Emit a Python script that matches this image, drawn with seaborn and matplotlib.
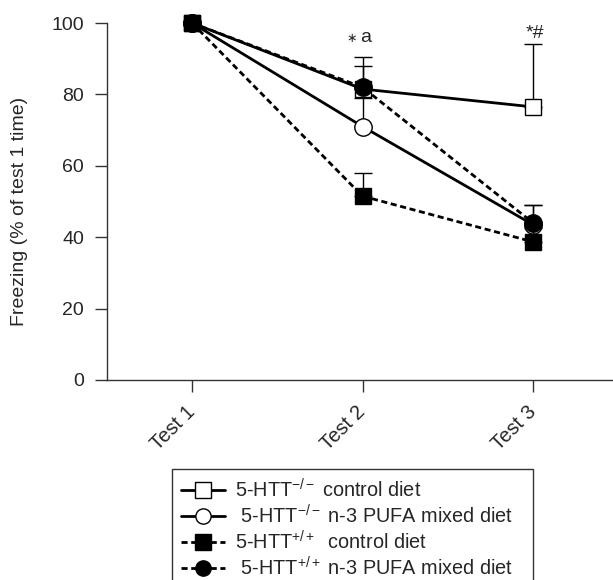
import matplotlib
matplotlib.use("Agg")
import matplotlib.pyplot as plt
import seaborn as sns
import pandas as pd
import numpy as np

# ---- data ----
tests = ["Test 1", "Test 2", "Test 3"]
ko_control = [100, 81.5, 76.5]
ko_control_err = [0, 6.5, 17.5]
ko_n3 = [100, 71, 43.5]
ko_n3_err = [0, 8, 5.5]
wt_control = [100, 51.5, 38.7]
wt_control_err = [0, 6.5, 4]
wt_n3 = [100, 82, 44]
wt_n3_err = [0, 8.5, 5]
labels = ["5-HTT$^{-/-}$ control diet",
          " 5-HTT$^{-/-}$ n-3 PUFA mixed diet   ",
          "5-HTT$^{+/+}$  control diet",
          " 5-HTT$^{+/+}$ n-3 PUFA mixed diet   "]
annot_marks = ["", "\u2217", "*"]
annot_letters = ["", "a", "#"]

sns.set_style("white")
plt.rcParams["font.family"] = ["Liberation Sans", "DejaVu Sans"]
plt.rcParams["mathtext.fontset"] = "custom"
plt.rcParams["mathtext.rm"] = "Liberation Sans"
plt.rcParams["mathtext.it"] = "Liberation Sans:italic"
plt.rcParams["mathtext.bf"] = "Liberation Sans:bold"

x = np.arange(len(tests))
series = [
    (labels[0], ko_control, ko_control_err, "-", "s", "white"),
    (labels[1], ko_n3, ko_n3_err, "-", "o", "white"),
    (labels[3], wt_n3, wt_n3_err, (0, (2.2, 1.3)), "o", "black"),
    (labels[2], wt_control, wt_control_err, (0, (2.2, 1.3)), "s", "black"),
]

fig = plt.figure(figsize=(6.13, 5.8), dpi=100)
ax = fig.add_axes([107/613, 1-380/580, 1-107/613, (380-23)/580])

handles = {}
for i, (lab, vals, err, ls, mk, fc) in enumerate(series):
    df = pd.DataFrame({"x": x, "y": vals})
    ax.errorbar(x, vals, yerr=[np.zeros(len(err)), err], fmt="none",
                ecolor="black", elinewidth=1.0, capsize=6.5, capthick=1.0,
                zorder=2+i, clip_on=False)
    sns.lineplot(data=df, x="x", y="y", ax=ax, color="black", linewidth=2.0,
                 linestyle=ls, marker=mk, markersize=12 if mk == "s" else 12.5,
                 markerfacecolor=fc, markeredgecolor="black", markeredgewidth=1.0,
                 zorder=3+i, clip_on=False, legend=False)
    handles[lab] = ax.lines[-1]

# significance annotations
ax.text(x[1] - 0.035, 95.6, annot_marks[1], ha="right", va="center", fontsize=9)
ax.text(x[1] - 0.015, 96.0, annot_letters[1], ha="left", va="center", fontsize=14)
ax.text(x[2] + 0.01, 97.0, annot_marks[2] + annot_letters[2], ha="center",
        va="center", fontsize=14)

ax.set_xlim(-0.4985, 2.469)
ax.set_ylim(0, 100)
ax.set_xticks(x)
ax.set_xticklabels(tests, rotation=45, ha="right", va="center",
                   rotation_mode="anchor", fontsize=14.5)
ax.set_yticks([0, 20, 40, 60, 80, 100])
ax.tick_params(axis="both", direction="out", length=8.6, width=1.0,
               color="#333333", labelsize=14, bottom=True, left=True)
ax.tick_params(axis="y", pad=8)
ax.tick_params(axis="x", pad=12, labelsize=14.5)
ax.set_xlabel("")
ax.set_ylabel("Freezing (% of test 1 time)", fontsize=14)
ax.yaxis.set_label_coords(-0.156, 0.473)
for s in ["top", "right"]:
    ax.spines[s].set_visible(False)
for s in ["left", "bottom"]:
    ax.spines[s].set_color("#333333")
    ax.spines[s].set_linewidth(1.0)

order = labels
leg = fig.legend([handles[l] for l in order], order, loc="upper left",
                 bbox_to_anchor=(172/613, 1-469/580), fontsize=14.3,
                 frameon=True, fancybox=False, edgecolor="black",
                 handlelength=2.2, handletextpad=0.5, labelspacing=0.14,
                 borderpad=0.45, borderaxespad=0, markerscale=1.0)
leg.get_frame().set_linewidth(1.0)
for h in leg.legend_handles:
    h.set_markersize(11)

fig.savefig("out.png", dpi=100)
